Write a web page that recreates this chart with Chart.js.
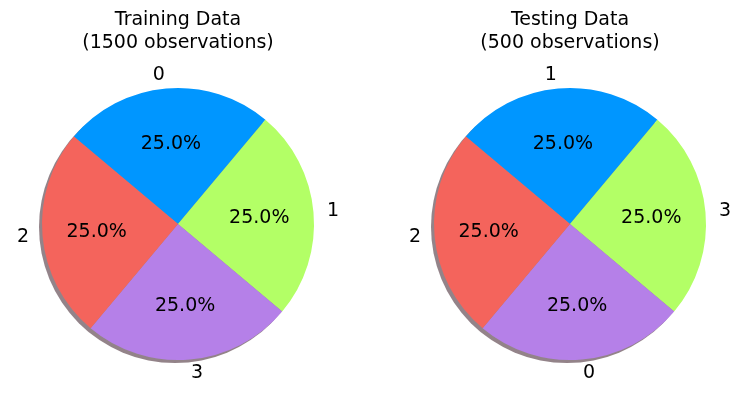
<!DOCTYPE html>
<html>
<head>
<meta charset="utf-8">
<script src="https://cdn.jsdelivr.net/npm/chart.js@4/dist/chart.umd.min.js"></script>
<style>
  html, body { margin: 0; padding: 0; background: #fff; }
  #wrap { position: relative; width: 750px; height: 403px; }
  .pie { position: absolute; top: 0; width: 356px; height: 403px; }
</style>
</head>
<body>
<div id="wrap">
  <div class="pie" style="left:0"><canvas id="trainChart"></canvas></div>
  <div class="pie" style="left:392px"><canvas id="testChart"></canvas></div>
</div>
<script>
// slices listed clockwise, starting at the blue wedge
const trainLabels = ['0', '1', '3', '2']
const trainCounts = [375, 375, 375, 375]
const testLabels = ['1', '3', '0', '2']
const testCounts = [125, 125, 125, 125]
const sliceColors = ['#0096ff', '#b3ff66', '#b580e8', '#f4645c']

const trainTitle = ['Training Data', '(1500 observations)']
const testTitle = ['Testing Data', '(500 observations)']

const FONT_SIZE = 19
const FONT = FONT_SIZE + 'px "DejaVu Sans", sans-serif'
// roughly half the digit height, so text sits centred on its ink like matplotlib
const MID = FONT_SIZE * 0.31

// matplotlib-ish pie: shadow, pct labels inside, category labels outside, two-line title
const pieDecor = {
  id: 'pieDecor',
  beforeDatasetsDraw(chart) {
    const arc = chart.getDatasetMeta(0).data[0]
    if (!arc) return
    const { x, y, outerRadius } = arc.getProps(['x', 'y', 'outerRadius'], true)
    const ctx = chart.ctx
    ctx.save()
    ctx.fillStyle = 'rgba(120, 100, 108, 0.8)'
    ctx.beginPath()
    ctx.arc(x - 3, y + 3, outerRadius, 0, Math.PI * 2)
    ctx.fill()
    ctx.restore()
  },
  afterDatasetsDraw(chart, args, opts) {
    const ctx = chart.ctx
    const ds = chart.data.datasets[0]
    const total = ds.data.reduce((a, b) => a + b, 0)
    const meta = chart.getDatasetMeta(0)
    ctx.save()
    ctx.font = FONT
    ctx.fillStyle = '#000'
    ctx.textBaseline = 'alphabetic'
    let cx = 0
    meta.data.forEach((el, i) => {
      const p = el.getProps(['x', 'y', 'startAngle', 'endAngle', 'outerRadius'], true)
      const mid = (p.startAngle + p.endAngle) / 2
      const c = Math.cos(mid), s = Math.sin(mid)
      cx = p.x
      ctx.textAlign = 'center'
      ctx.fillText((ds.data[i] / total * 100).toFixed(1) + '%', p.x + 0.6 * p.outerRadius * c, p.y + 0.6 * p.outerRadius * s + MID)
      ctx.textAlign = c > 0 ? 'left' : 'right'
      ctx.fillText(chart.data.labels[i], p.x + 1.1 * p.outerRadius * c, p.y + 1.1 * p.outerRadius * s + MID - 1)
    })
    ctx.textAlign = 'center'
    opts.title.forEach((line, k) => ctx.fillText(line, cx, 25 + k * 22.5))
    ctx.restore()
  }
}

function makePie(id, labels, counts, title) {
  return new Chart(document.getElementById(id), {
    type: 'pie',
    data: {
      labels,
      datasets: [{ data: counts, backgroundColor: sliceColors, borderWidth: 0 }]
    },
    options: {
      responsive: true,
      maintainAspectRatio: false,
      animation: false,
      rotation: -50,
      events: [],
      layout: { padding: { top: 88, bottom: 43, left: 42, right: 42 } },
      plugins: {
        legend: { display: false },
        tooltip: { enabled: false },
        title: { display: false },
        pieDecor: { title }
      }
    },
    plugins: [pieDecor]
  })
}

makePie('trainChart', trainLabels, trainCounts, trainTitle)
makePie('testChart', testLabels, testCounts, testTitle)
</script>
</body>
</html>
